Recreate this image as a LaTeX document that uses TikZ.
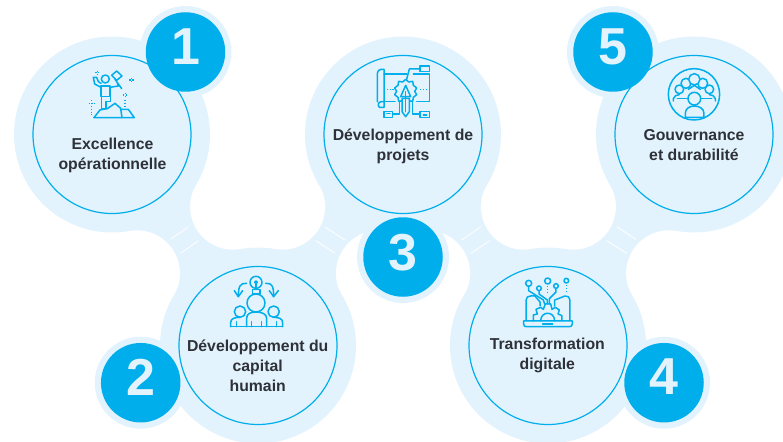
\documentclass[tikz,border=0pt]{standalone}
\usepackage{fontspec}
\setmainfont{Liberation Sans}
\definecolor{pale}{HTML}{E3F3FD}
\definecolor{azure}{HTML}{00AEEB}
\definecolor{ink}{HTML}{2E3238}
\tikzset{
 halo/.style={circle,fill=pale,minimum size=92pt,inner sep=0pt},
 lobe/.style={circle,fill=pale,minimum size=196pt,inner sep=0pt},
 ringc/.style={circle,draw=azure,line width=1.2pt,fill=none,minimum size=158pt,inner sep=0pt},
 badge/.style={circle,fill=azure,minimum size=79.5pt,inner sep=0pt},
 numeral/.style={text=pale,inner sep=0pt,font=\fontsize{52}{52}\selectfont\bfseries},
 label/.style={text=ink,inner sep=0pt,align=center,font=\fontsize{15.8}{20}\selectfont\bfseries},
 fillet/.style={circle,fill=white,minimum size=86pt,inner sep=0pt},
 band/.style={fill=pale},
 sep/.style={draw=white,line width=.8pt},
 icon/.style={draw=azure,line width=1.5pt,line join=round,line cap=round},
 dots/.style={draw=azure,line width=1.5pt,dash pattern=on 1.4pt off 1.5pt},
}
\begin{document}
\begin{tikzpicture}[x=1pt,y=-1pt]
\useasboundingbox (0,0) rectangle (783,441);
\begin{scope}
\clip (0,0) rectangle (783,441);
\coordinate (p1) at (112,134.5);
\coordinate (p2) at (258,345.5);
\coordinate (p3) at (403,134.5);
\coordinate (p4) at (548,345.5);
\coordinate (p5) at (694,134.5);
\coordinate (f12a) at (233.1,206.7);
\coordinate (f12b) at (136.9,273.3);
\coordinate (f32a) at (378.9,273.3);
\coordinate (f32b) at (282.1,206.7);
\coordinate (f34a) at (523.9,206.7);
\coordinate (f34b) at (427.1,273.3);
\coordinate (f54a) at (669.1,273.3);
\coordinate (f54b) at (572.9,206.7);
% bridges between the lobes
\fill[band] (p1)--(f12a)--(p2)--(f12b)--cycle;
\fill[band] (p3)--(f32a)--(p2)--(f32b)--cycle;
\fill[band] (p3)--(f34a)--(p4)--(f34b)--cycle;
\fill[band] (p5)--(f54a)--(p4)--(f54b)--cycle;
\foreach \f in {f12a,f12b,f32a,f32b,f34a,f34b,f54a,f54b}
  \node[fillet] (w\f) at (\f) {};
\node[lobe] (l1) at (p1) {};
\node[lobe] (l2) at (p2) {};
\node[lobe] (l3) at (p3) {};
\node[lobe] (l4) at (p4) {};
\node[lobe] (l5) at (p5) {};
% white separators
\coordinate (s1) at (170.5,239.3); \coordinate (s2) at (188.5,226.7);
\coordinate (s3) at (180.5,253.3); \coordinate (s4) at (198.5,240.7);
\coordinate (s5) at (325,227); \coordinate (s6) at (345,240);
\coordinate (s7) at (315.7,240.7); \coordinate (s8) at (335,253);
\coordinate (s9) at (461.7,240); \coordinate (s10) at (481,226.7);
\coordinate (s11) at (470.7,253.3); \coordinate (s12) at (490,240.7);
\coordinate (s13) at (616.7,226.7); \coordinate (s14) at (636,239.3);
\coordinate (s15) at (606.7,240.7); \coordinate (s16) at (626.7,253.3);
\draw[sep] (s1)--(s2); \draw[sep] (s3)--(s4); \draw[sep] (s5)--(s6); \draw[sep] (s7)--(s8);
\draw[sep] (s9)--(s10); \draw[sep] (s11)--(s12); \draw[sep] (s13)--(s14); \draw[sep] (s15)--(s16);
% halos, rings, badges
\node[halo] (h1) at (185.5,52) {};
\node[halo] (h2) at (140.7,382.7) {};
\node[halo] (h3) at (403,257) {};
\node[halo] (h4) at (664,382.7) {};
\node[halo] (h5) at (613,52) {};
\node[ringc] (c1) at (p1) {};
\node[ringc] (c2) at (p2) {};
\node[ringc] (c3) at (p3) {};
\node[ringc] (c4) at (p4) {};
\node[ringc] (c5) at (p5) {};
\node[badge] (b1) at (h1) {};
\node[badge] (b2) at (h2) {};
\node[badge] (b3) at (h3) {};
\node[badge] (b4) at (h4) {};
\node[badge] (b5) at (h5) {};
\node[numeral] (n1) at (185.5,47) {1};
\node[numeral] (n2) at (140.5,377.5) {2};
\node[numeral] (n3) at (403,252.5) {3};
\node[numeral] (n4) at (664,377) {4};
\node[numeral] (n5) at (613,47) {5};
% labels
\node[label] (t1) at (112.5,155.8) {Excellence\\opérationnelle};
\node[label] (t2) at (257.7,365.8) {Développement du\\capital\\humain};
\node[label] (t3) at (403,146.8) {Développement de\\projets};
\node[label] (t4) at (547.3,355.8) {Transformation\\digitale};
\node[label] (t5) at (694,145.3) {Gouvernance\\et durabilité};

% icon 1: climber
\begin{scope}[shift={(0,0)},x=.3333pt,y=-.3333pt]
\draw[icon] (282,353)--(403,353)--(385,328)--(362,328);
\draw[icon] (282,353)--(300,330)--(322,326)--(345,310)--(362,325)--(366,353);
\draw[icon] (316,237) circle (12);
\draw[icon] (303,258)--(330,258)--(330,290)--(303,290)--cycle;
\draw[icon] (305,290)--(305,325)--(318,325)--(318,305)--(332,305)--(332,290);
\draw[icon] (303,262)--(284,252)--(280,232)--(290,232)--(295,245)--(303,250);
\draw[icon] (330,262)--(355,258)--(352,248);
\draw[icon] (345,238)--(365,266);
\draw[icon] (335,226)--(350,213)--(366,228)--(350,241)--cycle;
\draw[dots] (292,212)--(292,224);
\draw[dots] (286,218)--(298,218);
\draw[dots] (388,240)--(403,240);
\draw[dots] (395,233)--(395,248);
\draw[dots] (368,285)--(385,285);
\draw[dots] (376,278)--(376,292);
\draw[dots] (266,310)--(284,310);
\draw[dots] (275,300)--(275,345);
\draw[dots] (375,300)--(375,322);
\end{scope}

% icon 2: people and bulb
\begin{scope}[shift={(90,220)},x=.3333pt,y=-.3333pt]
\draw[icon] (498,187) circle (18);
\draw[icon] (498,187) circle (4);
\draw[icon] (498,191)--(498,208);
\draw[icon] (487,208)--(510,208)--(510,222)--(487,222)--cycle;
\draw[icon] (498,249) circle (27);
\draw[icon] (470,190) .. controls (450,188) and (445,200) .. (445,230);
\draw[icon] (433,212)--(445,230)--(458,212);
\draw[icon] (527,190) .. controls (547,188) and (551,200) .. (551,230);
\draw[icon] (538,212)--(551,230)--(565,212);
\draw[icon] (450,275) circle (17);
\draw[icon] (551,275) circle (17);
\draw[icon] (422,320)--(422,308) .. controls (422,295) and (435,292) .. (450,292);
\draw[icon] (578,320)--(578,308) .. controls (578,295) and (565,292) .. (551,292);
\draw[icon] (470,320)--(470,295) .. controls (470,282) and (480,276) .. (498,276) .. controls (516,276) and (530,282) .. (530,295)--(530,320);
\draw[icon] (422,320)--(578,320);
\draw[icon] (440,305)--(440,320);
\draw[icon] (485,305)--(485,320);
\draw[icon] (515,305)--(515,320);
\draw[icon] (560,305)--(560,320);
\end{scope}

% icon 3: map, gear, pencil
\begin{scope}[shift={(370,60)},x=.3333pt,y=-.3333pt]
\draw[icon] (42,125)--(35,125) .. controls (25,125) and (22,135) .. (28,142)--(42,142)--(42,28) .. controls (42,28) and (22,25) .. (22,40)--(22,125);
\draw[icon] (42,42)--(110,42);
\draw[icon] (130,42)--(178,42)--(178,125)--(140,125);
\draw[icon] (42,125)--(75,125);
\draw[icon] (150,18)--(178,18)--(178,35)--(150,35)--cycle;
\draw[icon] (150,27)--(118,27)--(110,58);
\draw[icon] (42,155)--(68,155)--(68,172)--(42,172)--cycle;
\draw[icon] (68,162)--(88,162)--(88,120);
\draw[icon] (150,155)--(178,155)--(178,172)--(150,172)--cycle;
\draw[icon] (150,162)--(128,162)--(128,120);
\draw[icon] (50,160)--(60,160);
\draw[icon] (160,165)--(170,165);
\draw[dots] (50,88)--(72,88);
\draw[dots] (150,88)--(168,88);
\draw[icon,fill=pale] plot[smooth cycle,tension=.25] coordinates {(107,58)(116,66)(128,64)(130,76)(140,84)(134,94)(140,104)(130,112)(128,124)(116,122)(107,130)(98,122)(86,124)(84,112)(74,104)(80,94)(74,84)(84,76)(86,64)(98,66)};
\draw[icon,fill=pale] (96,115)--(96,155)--(107,170)--(118,155)--(118,115)--cycle;
\draw[icon,fill=pale] (107,76)--(122,110)--(92,110)--cycle;
\draw[icon] (107,95)--(107,155);
\end{scope}

% icon 4: laptop, gear, circuits
\begin{scope}[shift={(450,220)},x=.3333pt,y=-.3333pt]
\draw[icon] (221,303)--(367,303)--(367,312) .. controls (367,318) and (362,320) .. (358,320)--(230,320) .. controls (224,320) and (221,318) .. (221,312)--cycle;
\draw[icon] (228,300)--(228,240) .. controls (228,232) and (235,228) .. (242,228)--(255,228)--(270,246)--(270,258);
\draw[icon] (360,300)--(360,240) .. controls (360,232) and (352,226) .. (345,228)--(314,240)--(314,258);
\draw[icon] (250,303)--(250,285)--(262,282)--(258,268)--(272,262)--(280,268)--(286,252)--(302,252)--(306,268)--(316,262)--(328,270)--(324,282)--(336,287)--(336,303);
\draw[icon] (272,303) .. controls (272,272) and (314,272) .. (314,303);
\draw[icon] (278,312)--(308,312);
\draw[icon] (236,190) circle (9);
\draw[icon] (236,199)--(236,212)--(280,240)--(284,252);
\draw[icon] (267,205) circle (7);
\draw[icon] (267,212)--(267,222)--(292,240)--(292,252);
\draw[icon] (293,183) circle (9);
\draw[dots] (293,198)--(293,222);
\draw[icon] (318,198) circle (7);
\draw[icon] (318,205)--(318,216)--(298,236)--(298,252);
\draw[icon] (349,182) circle (7);
\draw[dots] (349,195)--(349,218);
\end{scope}

% icon 5: assembly
\begin{scope}[shift={(560,0)},x=.3333pt,y=-.3333pt]
\draw[icon] (402,283) circle (77);
\draw[icon] (340,303)--(340,296) .. controls (342,288) and (350,284) .. (358,284);
\draw[icon] (466,303)--(466,296) .. controls (464,288) and (456,284) .. (448,284);
\draw[icon] (358,268) circle (13);
\draw[icon] (448,268) circle (13);
\draw[icon,fill=pale] (378,250) circle (15);
\draw[icon,fill=pale] (428,250) circle (15);
\draw[icon] (352,295)--(390,295);
\draw[icon] (416,295)--(455,295);
\draw[icon,fill=pale] (403,238) circle (17);
\draw[icon] (385,268)--(403,256)--(421,268);
\draw[icon,fill=pale] (376,352)--(376,340) .. controls (376,325) and (390,318) .. (403,318) .. controls (416,318) and (432,325) .. (432,340)--(432,352)--cycle;
\draw[icon,fill=pale] (403,296) circle (19);
\end{scope}
\end{scope}
\end{tikzpicture}
\end{document}
